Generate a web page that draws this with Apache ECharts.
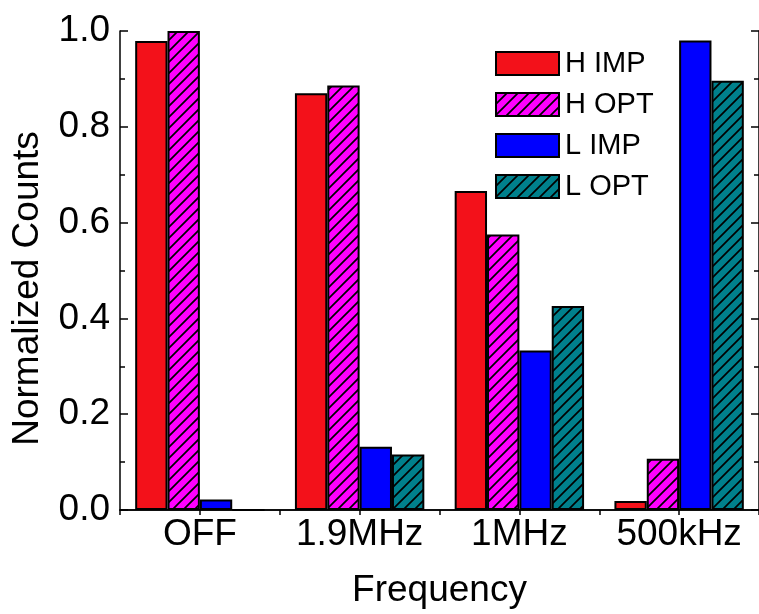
<!DOCTYPE html>
<html>
<head>
<meta charset="utf-8">
<script src="https://cdn.jsdelivr.net/npm/echarts@6/dist/echarts.min.js"></script>
<style>
  html, body { margin: 0; padding: 0; background: #fff; overflow: hidden; }
  #chart { width: 759px; height: 614px; }
</style>
</head>
<body>
<div id="chart"></div>
<script>
// Frequency settings along the x axis
const categories = ['OFF', '1.9MHz', '1MHz', '500kHz'];

// Normalized counts per series
const hImp = [0.979, 0.870, 0.666, 0.019];
const hOpt = [1.000, 0.886, 0.575, 0.107];
const lImp = [0.022, 0.132, 0.333, 0.980];
const lOpt = [0.000, 0.116, 0.426, 0.896];

const seriesNames = ['H IMP', 'H OPT', 'L IMP', 'L OPT'];
const yTickLabels = ['0.0', '0.2', '0.4', '0.6', '0.8', '1.0'];

const FONT = '"Liberation Sans", Arial, Helvetica, sans-serif';

// Diagonal "/" hatch on a coloured background
function hatch(bg) {
  const s = 11;
  const c = document.createElement('canvas');
  c.width = s; c.height = s;
  const g = c.getContext('2d');
  g.fillStyle = bg;
  g.fillRect(0, 0, s, s);
  g.strokeStyle = '#000';
  g.lineWidth = 1.7;
  g.beginPath();
  g.moveTo(-1, s + 1); g.lineTo(s + 1, -1);
  g.moveTo(-2, 2); g.lineTo(2, -2);
  g.moveTo(s - 2, s + 2); g.lineTo(s + 2, s - 2);
  g.stroke();
  return { image: c, repeat: 'repeat' };
}

const fills = [
  '#f3111a',
  hatch('#ff00ff'),
  '#0000ff',
  hatch('#00808c')
];
const values = [hImp, hOpt, lImp, lOpt];

const chart = echarts.init(document.getElementById('chart'), null, { renderer: 'canvas' });

chart.setOption({
  animation: false,
  backgroundColor: '#fff',
  textStyle: { fontFamily: FONT },
  grid: { left: 120, right: -3, top: 31, bottom: 104 },
  legend: {
    orient: 'vertical',
    left: 490,
    top: 44,
    itemWidth: 63,
    itemHeight: 23,
    itemGap: 12,
    icon: 'rect',
    data: seriesNames,
    itemStyle: { borderColor: '#000', borderWidth: 2 },
    textStyle: { fontSize: 29, color: '#000', fontFamily: FONT, padding: [0, 0, 0, 1] }
  },
  xAxis: [
    {
      type: 'category',
      data: categories,
      position: 'bottom',
      name: 'Frequency',
      nameLocation: 'middle',
      nameGap: 62,
      nameTextStyle: { fontSize: 37, color: '#000', fontFamily: FONT },
      axisLine: { lineStyle: { color: '#000', width: 1.5 } },
      axisTick: { inside: true, length: 5, lineStyle: { color: '#000', width: 1.5 } },
      axisLabel: { fontSize: 37, color: '#000', margin: 6, interval: 0, fontFamily: FONT },
      splitLine: { show: false }
    },
    {
      type: 'value',
      position: 'top',
      min: 0,
      max: 8,
      interval: 1,
      axisLine: { show: true, lineStyle: { color: '#000', width: 1.5 } },
      axisTick: { show: true, inside: true, length: 5, lineStyle: { color: '#000', width: 1.5 } },
      axisLabel: { show: false },
      splitLine: { show: false }
    }
  ],
  yAxis: [
    {
      type: 'value',
      min: 0,
      max: 1,
      interval: 0.2,
      position: 'left',
      name: 'Normalized Counts',
      nameLocation: 'middle',
      nameGap: 74,
      nameTextStyle: { fontSize: 37, color: '#000', fontFamily: FONT, padding: [0, 36, 0, 0] },
      axisLine: { show: true, lineStyle: { color: '#000', width: 1.5 } },
      axisTick: { show: true, inside: true, length: 8, lineStyle: { color: '#000', width: 1.5 } },
      minorTick: { show: true, splitNumber: 2, length: 5, lineStyle: { color: '#000', width: 1.5 } },
      axisLabel: {
        fontSize: 37,
        color: '#000',
        margin: 10,
        fontFamily: FONT,
        formatter: (v) => yTickLabels[Math.round(v / 0.2)]
      },
      splitLine: { show: false }
    },
    {
      type: 'value',
      min: 0,
      max: 1,
      interval: 0.2,
      position: 'right',
      axisLine: { show: true, lineStyle: { color: '#000', width: 1.5 } },
      axisTick: { show: true, inside: true, length: 8, lineStyle: { color: '#000', width: 1.5 } },
      minorTick: { show: true, splitNumber: 2, length: 5, lineStyle: { color: '#000', width: 1.5 } },
      axisLabel: { show: false },
      splitLine: { show: false }
    }
  ],
  series: seriesNames.map((name, i) => ({
    name: name,
    type: 'bar',
    xAxisIndex: 0,
    yAxisIndex: 0,
    data: values[i],
    barGap: '0%',
    barCategoryGap: '19%',
    itemStyle: { color: fills[i], borderColor: '#000', borderWidth: 2 },
    emphasis: { disabled: true }
  }))
});
</script>
</body>
</html>
